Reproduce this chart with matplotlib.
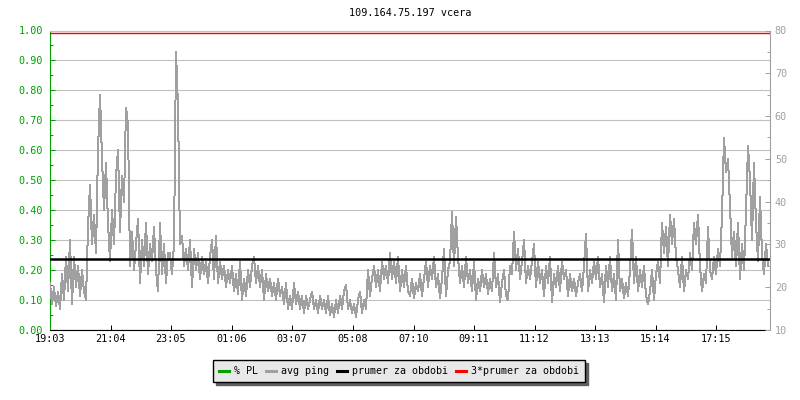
import numpy as np
import matplotlib
matplotlib.use("Agg")
import matplotlib.pyplot as plt
from matplotlib.lines import Line2D
from matplotlib.ticker import MultipleLocator, FormatStrFormatter

plt.rcParams['font.family'] = ['DejaVu Sans Mono']
plt.rcParams['font.size'] = 7.3

title = "109.164.75.197 vcera"
start_time = "19:03"
tick_times = ["19:03", "21:04", "23:05", "01:06", "03:07", "05:08",
              "07:10", "09:11", "11:12", "13:13", "15:14", "17:15"]
sample_min = 4  # one reading every 4 minutes

# avg ping [ms]
avg_ping = [
    # 19:03 - 23:00
    21, 16, 20, 15.5, 19, 15, 23, 17, 27, 19, 31, 16, 27, 20, 25, 18, 24, 19, 17, 34,
    44, 30, 37, 28, 52, 65, 50, 38, 49, 35, 26, 38, 30, 46, 52, 33, 46, 40, 62, 58,
    25, 33, 24, 30, 36, 21, 31, 25, 35, 23, 30, 26, 34, 24, 19, 35, 23, 30, 21, 28,
    # 23:00 - 03:00
    28, 23, 30, 75, 62, 30, 32, 25, 29, 24, 31, 20, 29, 24, 28, 22, 27, 23, 26, 21,
    27, 31, 22, 32, 21, 26, 22, 25, 20, 24, 21, 25, 19, 23, 18.5, 26, 17, 22, 18, 24,
    20, 25, 27, 21, 25, 20, 24, 17, 23, 19, 22, 18, 21, 17, 22, 18, 20, 16, 21, 15,
    # 03:00 - 07:00
    18, 15, 21, 16, 19, 15, 18, 14, 18, 15, 17, 19, 15, 17, 14, 18, 15, 17, 14, 18,
    13.5, 16, 13, 17, 14, 18, 15, 19, 20.5, 15, 17, 14, 16, 13, 17, 19, 14, 17, 15, 24,
    18, 22, 25, 20, 24, 19, 26, 22, 25, 21, 28, 22, 26, 21, 27, 19, 24, 20, 25, 19,
    # 07:00 - 11:00
    18, 22, 17.5, 21, 19, 23, 18, 22, 26, 20, 25, 22, 27, 20, 23, 17.5, 22, 29, 18, 24,
    26, 37.5, 25, 36.5, 27, 21, 25, 20, 27, 21, 24, 19, 26, 17, 22, 19, 24, 20, 23, 18.5,
    22, 19, 28, 20, 23, 16.5, 21, 24, 18, 17, 25, 23, 33, 24, 29, 22, 26, 31, 21, 25,
    # 11:00 - 15:00
    22, 26, 30, 20, 26, 21, 24, 18, 25, 21, 27, 16.5, 23, 20, 25, 19, 26, 22, 24, 18,
    23, 19, 22, 18, 21, 23, 19, 25, 32.5, 19, 24, 21, 26, 22, 27, 20, 23, 16.5, 25, 20,
    27, 19, 23, 17, 31, 19, 22, 17.5, 21, 18, 24, 33.5, 21, 27, 19, 24, 20, 25, 18, 16,
    # 15:00 - 19:00
    19, 24, 17, 23, 26, 21, 35, 28, 34, 25, 37, 30, 36, 27, 24, 20, 27, 19, 24, 22,
    28, 24, 35, 30, 37, 25, 19, 23, 21, 34, 24, 22, 27, 23, 29, 25, 37, 55, 47, 50,
    39, 27, 33, 25, 35, 22, 30, 24, 38, 53, 45, 31, 49, 35, 26, 41, 28, 23, 30, 25,
]
packet_loss = [0.0] * len(avg_ping)
mean_ping = 26.5

labels = ["% PL", "avg ping", "prumer za obdobi", "3*prumer za obdobi"]
green = '#00a000'
gray = '#a0a0a0'


def to_min(s):
    h, m = s.split(':')
    h0, m0 = start_time.split(':')
    return (int(h) * 60 + int(m) - int(h0) * 60 - int(m0)) % 1440


t = np.arange(len(avg_ping)) * sample_min

fig = plt.figure(figsize=(8, 4), dpi=100)
ax = fig.add_axes([50 / 800, 70 / 400, 720 / 800, 299.5 / 400])
ax.set_xlim(0, 1440)
ax.set_ylim(0, 1)
ax2 = ax.twinx()
ax2.set_ylim(10, 80)

# left axis (% PL)
ax.set_yticks(np.arange(0, 1.01, 0.1))
ax.yaxis.set_minor_locator(MultipleLocator(0.05))
ax.yaxis.set_major_formatter(FormatStrFormatter('%.2f'))
ax.yaxis.grid(True, color='#c0c0c0', lw=0.8)
ax.set_axisbelow(True)
ax.tick_params(axis='y', which='major', direction='in', length=3.6, width=0.72,
               colors=green, pad=5)
ax.tick_params(axis='y', which='minor', direction='in', length=2.2, width=0.72,
               colors=green)
ax.set_xticks([to_min(s) for s in tick_times], tick_times)
ax.tick_params(axis='x', direction='in', length=3.6, width=0.72, colors='black', pad=3)
ax.spines['left'].set_color(green)
ax.spines['left'].set_linewidth(0.8)
ax.spines['bottom'].set_color('black')
ax.spines['bottom'].set_linewidth(0.8)
ax.spines['bottom'].set_bounds(0, 1430)
ax.spines['top'].set_color('#c0c0c0')
ax.spines['top'].set_linewidth(0.8)
ax.spines['right'].set_visible(False)
ax.plot(t, packet_loss, color=green, lw=0.8, zorder=0)

# right axis (ping ms)
ax2.set_yticks(range(10, 81, 10))
ax2.yaxis.set_minor_locator(MultipleLocator(5))
ax2.tick_params(axis='y', which='major', direction='in', length=3.6, width=0.72,
                colors=gray, pad=3.5)
ax2.tick_params(axis='y', which='minor', direction='in', length=2.2, width=0.72,
                colors=gray)
for side in ['left', 'top', 'bottom']:
    ax2.spines[side].set_visible(False)
ax2.spines['right'].set_color(gray)
ax2.spines['right'].set_linewidth(0.8)

ax2.plot(t, avg_ping, color=gray, lw=0.72, antialiased=False)
ax2.axhline(mean_ping, color='black', lw=1.8)
ax2.axhline(3 * mean_ping, color='red', lw=1.0)

fig.text(410 / 800, 1 - 13 / 400, title, ha='center', va='center')

handles = [Line2D([], [], color=c, lw=2.2) for c in [green, gray, 'black', 'red']]
leg = fig.legend(handles, labels, loc='center', bbox_to_anchor=(399 / 800, 1 - 371 / 400),
                 ncol=4, fancybox=False, shadow={'color': '#606060', 'alpha': 1.0},
                 edgecolor='black', facecolor='#e8e8e8', framealpha=1,
                 fontsize=7.2, handlelength=1.0, handletextpad=0.5,
                 columnspacing=0.8, borderpad=0.6, borderaxespad=0)
leg.get_frame().set_linewidth(1.0)

fig.savefig('out.png', dpi=100)
